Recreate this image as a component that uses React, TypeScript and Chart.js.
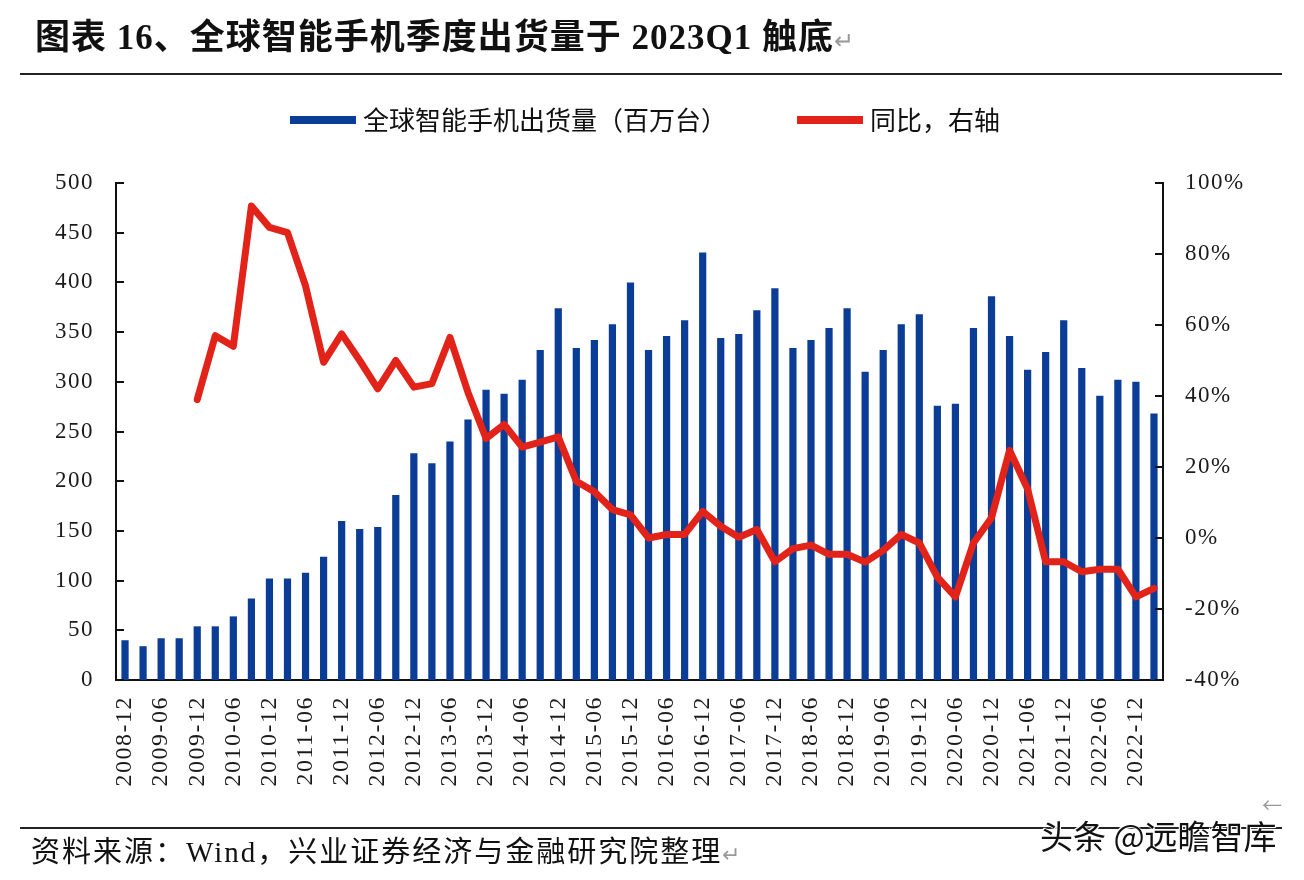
import React, { useEffect, useRef } from "react";
import { Chart, registerables } from "chart.js";

Chart.register(...registerables);

const categories = [
  "2008-12", "2009-03", "2009-06", "2009-09", "2009-12", "2010-03", "2010-06", "2010-09",
  "2010-12", "2011-03", "2011-06", "2011-09", "2011-12", "2012-03", "2012-06", "2012-09",
  "2012-12", "2013-03", "2013-06", "2013-09", "2013-12", "2014-03", "2014-06", "2014-09",
  "2014-12", "2015-03", "2015-06", "2015-09", "2015-12", "2016-03", "2016-06", "2016-09",
  "2016-12", "2017-03", "2017-06", "2017-09", "2017-12", "2018-03", "2018-06", "2018-09",
  "2018-12", "2019-03", "2019-06", "2019-09", "2019-12", "2020-03", "2020-06", "2020-09",
  "2020-12", "2021-03", "2021-06", "2021-09", "2021-12", "2022-03", "2022-06", "2022-09",
  "2022-12", "2023-03",
];

// 全球智能手机出货量（百万台）
const shipments = [
  40, 34, 42, 42, 54, 54, 64, 82,
  102, 102, 108, 124, 160, 152, 154, 186,
  228, 218, 240, 262, 292, 288, 302, 332,
  374, 334, 342, 358, 400, 332, 346, 362,
  430, 344, 348, 372, 394, 334, 342, 354,
  374, 310, 332, 358, 368, 276, 278, 354,
  386, 346, 312, 330, 362, 314, 286, 302,
  300, 268,
];

// 同比（%），右轴
const yoy: (number | null)[] = [
  null, null, null, null, 39, 57, 54, 93.5,
  87.5, 86, 71, 49.5, 57.5, 50, 42, 50,
  42.5, 43.5, 56.5, 41, 28, 32, 25.6, 27,
  28.5, 16, 13, 8, 6.5, 0, 1, 1,
  7.5, 3.3, 0.2, 2.4, -6.7, -3, -2, -4.6,
  -4.6, -6.8, -3.5, 1, -1.4, -11, -16.6, -1.4,
  5.7, 24.7, 13.8, -6.7, -6.7, -9.5, -8.8, -8.8,
  -16.6, -14.2,
];

const seriesLabels = ["全球智能手机出货量（百万台）", "同比，右轴"];
const titleText = "图表 16、全球智能手机季度出货量于 2023Q1 触底";
const sourceText = "资料来源：Wind，兴业证券经济与金融研究院整理";
const watermarkText = "头条 @远瞻智库";

const BLUE = "#0B3D96";
const RED = "#E2231A";
const SERIF = '"Liberation Serif", "Times New Roman", serif';
const CJK = '"Noto Sans CJK SC", sans-serif';

const decorPlugin = {
  id: "decor",
  beforeDraw(chart: any) {
    try {
      (chart.ctx as any).letterSpacing = "1.5px";
    } catch (e) {}
  },
  afterDraw(chart: any) {
    const { ctx, chartArea, scales } = chart;
    try {
      (ctx as any).letterSpacing = "0px";
    } catch (e) {}
    ctx.save();
    ctx.strokeStyle = "#111";
    ctx.lineWidth = 2;
    const y = scales.y;
    y.ticks.forEach((_t: any, i: number) => {
      const py = Math.round(y.getPixelForTick(i));
      ctx.beginPath();
      ctx.moveTo(chartArea.left, py);
      ctx.lineTo(chartArea.left + 8, py);
      ctx.stroke();
    });
    const y1 = scales.y1;
    y1.ticks.forEach((_t: any, i: number) => {
      const py = Math.round(y1.getPixelForTick(i));
      ctx.beginPath();
      ctx.moveTo(chartArea.right, py);
      ctx.lineTo(chartArea.right - 8, py);
      ctx.stroke();
    });

    // legend
    ctx.font = `26px ${CJK}`;
    ctx.textBaseline = "middle";
    ctx.textAlign = "left";
    let x = 290;
    const ly = 120;
    chart.data.datasets.forEach((ds: any) => {
      const color = ds.type === "line" ? ds.borderColor : ds.backgroundColor;
      ctx.fillStyle = color;
      ctx.fillRect(x, ly - 4, 66, 8);
      x += 66 + 7;
      ctx.fillStyle = "#111";
      ctx.fillText(ds.label, x, ly);
      x += ctx.measureText(ds.label).width + 70;
    });
    ctx.restore();
  },
};

export default function App() {
  const ref = useRef<HTMLCanvasElement | null>(null);

  useEffect(() => {
    if (!ref.current) return;
    const chart = new Chart(ref.current, {
      type: "bar",
      data: {
        labels: categories,
        datasets: [
          {
            type: "bar",
            label: seriesLabels[0],
            data: shipments,
            yAxisID: "y",
            backgroundColor: BLUE,
            borderWidth: 0,
            categoryPercentage: 1,
            barPercentage: 0.4,
            order: 1,
          } as any,
          {
            type: "line",
            label: seriesLabels[1],
            data: yoy,
            yAxisID: "y1",
            borderColor: RED,
            backgroundColor: RED,
            borderWidth: 7,
            pointRadius: 0,
            tension: 0,
            spanGaps: false,
            order: 0,
            borderJoinStyle: "round",
            borderCapStyle: "round",
          } as any,
        ],
      },
      options: {
        responsive: false,
        animation: false,
        devicePixelRatio: 1,
        layout: { padding: { top: 183, left: 0, right: 0, bottom: 0 } },
        plugins: {
          legend: { display: false },
          tooltip: { enabled: false },
          title: { display: false },
        },
        scales: {
          x: {
            offset: true,
            grid: { display: false, drawTicks: false },
            border: { display: true, color: "#111", width: 2 },
            ticks: {
              autoSkip: false,
              maxRotation: 90,
              minRotation: 90,
              padding: 16,
              color: "#1a1a1a",
              font: { family: SERIF, size: 24 },
              callback: (_v: any, i: number) => (i % 2 === 0 ? categories[i] : ""),
            },
            afterFit: (s: any) => {
              s.height = 200;
            },
          },
          y: {
            position: "left",
            min: 0,
            max: 500,
            grid: { display: false, drawTicks: false },
            border: { display: true, color: "#111", width: 2 },
            ticks: {
              stepSize: 50,
              padding: 22,
              color: "#1a1a1a",
              font: { family: SERIF, size: 23 },
            },
            afterFit: (s: any) => {
              s.width = 116;
            },
          },
          y1: {
            position: "right",
            min: -40,
            max: 100,
            grid: { display: false, drawTicks: false, drawOnChartArea: false },
            border: { display: true, color: "#111", width: 2 },
            ticks: {
              stepSize: 20,
              padding: 22,
              color: "#1a1a1a",
              font: { family: SERIF, size: 23 },
              callback: (v: any) => `${v}%`,
            },
            afterFit: (s: any) => {
              s.width = 1304 - 1163;
            },
          },
        },
      },
      plugins: [decorPlugin],
    });
    return () => chart.destroy();
  }, []);

  return (
    <div style={{ position: "absolute", left: 0, top: 0, width: 1304, height: 880, background: "#fff", overflow: "hidden" }}>
      <canvas ref={ref} width={1304} height={880} style={{ position: "absolute", left: 0, top: 0, width: 1304, height: 880 }} />
      <div
        style={{
          position: "absolute",
          left: 35,
          top: 15,
          fontFamily: `"Liberation Serif", "Noto Sans CJK SC", serif`,
          fontWeight: 700,
          fontSize: 35,
          letterSpacing: "1px",
          lineHeight: "46px",
          color: "#111",
          whiteSpace: "nowrap",
        }}
      >
        {titleText}
        <span style={{ color: "#999", fontWeight: 400, fontSize: 24 }}>↵</span>
      </div>
      <div style={{ position: "absolute", left: 20, top: 73, width: 1262, height: 2, background: "#222" }} />
      <div style={{ position: "absolute", left: 20, top: 827, width: 1262, height: 2, background: "#222" }} />
      <div
        style={{
          position: "absolute",
          left: 31,
          top: 834,
          fontFamily: `"Liberation Serif", "Noto Sans CJK SC", serif`,
          fontSize: 29,
          letterSpacing: "2px",
          lineHeight: "36px",
          color: "#111",
          whiteSpace: "nowrap",
        }}
      >
        {sourceText}
        <span style={{ color: "#999", fontSize: 22 }}>↵</span>
      </div>
      <div
        style={{
          position: "absolute",
          left: 1262,
          top: 790,
          fontFamily: CJK,
          fontSize: 20,
          color: "#999",
        }}
      >
        ←
      </div>
      <div
        style={{
          position: "absolute",
          left: 1040,
          top: 814,
          fontFamily: CJK,
          fontSize: 33,
          lineHeight: "42px",
          color: "#111",
          whiteSpace: "nowrap",
          textShadow: "0 0 2px #fff, 0 0 2px #fff, 1px 1px 0 #fff, -1px -1px 0 #fff",
        }}
      >
        {watermarkText}
      </div>
    </div>
  );
}
